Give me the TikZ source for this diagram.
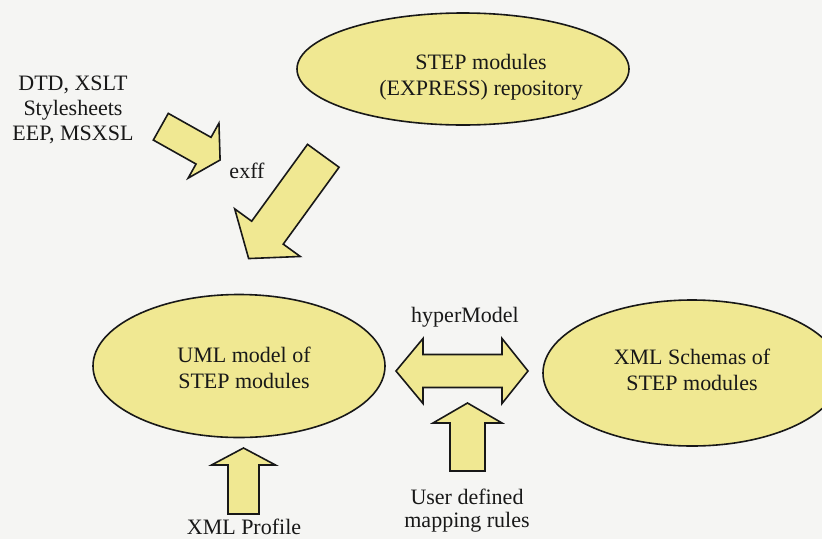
\documentclass[tikz,border=0pt]{standalone}
\usepackage{fontspec}
\setmainfont{Liberation Serif}
\newfontfamily\diagfont{Liberation Serif}
\usetikzlibrary{shapes.geometric}

\definecolor{paper}{RGB}{245,245,243}
\definecolor{pale}{RGB}{240,232,146}
\definecolor{ink}{RGB}{24,24,24}

\tikzset{
  blob/.style={ellipse, draw=ink, fill=pale, line width=1.6pt, inner sep=0pt},
  arrowshape/.style={draw=ink, fill=pale, line width=1.6pt, line join=miter},
  label/.style={text=ink, align=center, inner sep=0pt,
                font=\diagfont\fontsize{22}{26}\selectfont},
}

% block arrow: #1 start of shaft, #2 direction, #3 shaft length,
% #4 shaft width, #5 head width, #6 head length
\newcommand{\blockarrow}[6]{%
  \begin{scope}[shift={(#1)}, rotate=#2]
    \draw[arrowshape] (0,-#4/2) -- (#3,-#4/2) -- (#3,-#5/2) -- (#3+#6,0)
      -- (#3,#5/2) -- (#3,#4/2) -- (0,#4/2) -- cycle;
  \end{scope}}

\begin{document}
\begin{tikzpicture}[x=1pt, y=-1pt]
  \fill[paper] (0,0) rectangle (822,539);
  \useasboundingbox (0,0) rectangle (822,539);
  \clip (0,0) rectangle (822,539);

  % ellipses
  \node[blob, minimum width=332pt, minimum height=112pt] (repo) at (463,69) {};
  \node[blob, minimum width=292pt, minimum height=143pt] (uml) at (239,366) {};
  \node[blob, minimum width=298pt, minimum height=146pt] (xsd) at (692,373) {};

  \node[label] (repotext) at (481,77) {STEP modules\\(EXPRESS) repository};
  \node[label] (umltext) at (244,368) {UML model of\\STEP modules};
  \node[label] (xsdtext) at (692,370) {XML Schemas of\\STEP modules};

  % block arrows
  \blockarrow{160.8,126.7}{-29.3}{49}{30.6}{63}{19}
  \blockarrow{323.3,155.8}{-126}{95}{39}{81}{32}
  \blockarrow{467.5,471}{90}{48}{35}{69}{20}
  \blockarrow{243.5,514}{90}{49}{31}{64}{17}

  % two-headed arrow between the UML model and the XML Schemas
  \draw[arrowshape] (396,371) -- (423,338.5) -- (423,354.5) -- (502,354.5)
    -- (502,338.5) -- (528,371) -- (502,403.5) -- (502,387.5) -- (423,387.5)
    -- (423,403.5) -- cycle;

  % labels
  \node[label, font=\diagfont\fontsize{22}{25}\selectfont] (dtd) at (73,110)
    {DTD, XSLT\\Stylesheets\\EEP, MSXSL};
  \node[label] (exff) at (247,171) {exff};
  \node[label] (hyper) at (465,317) {hyperModel};
  \node[label, font=\diagfont\fontsize{22}{23}\selectfont] (rules) at (467,511)
    {User defined\\mapping rules};
  \node[label] (profile) at (244,527) {XML Profile};
\end{tikzpicture}
\end{document}
